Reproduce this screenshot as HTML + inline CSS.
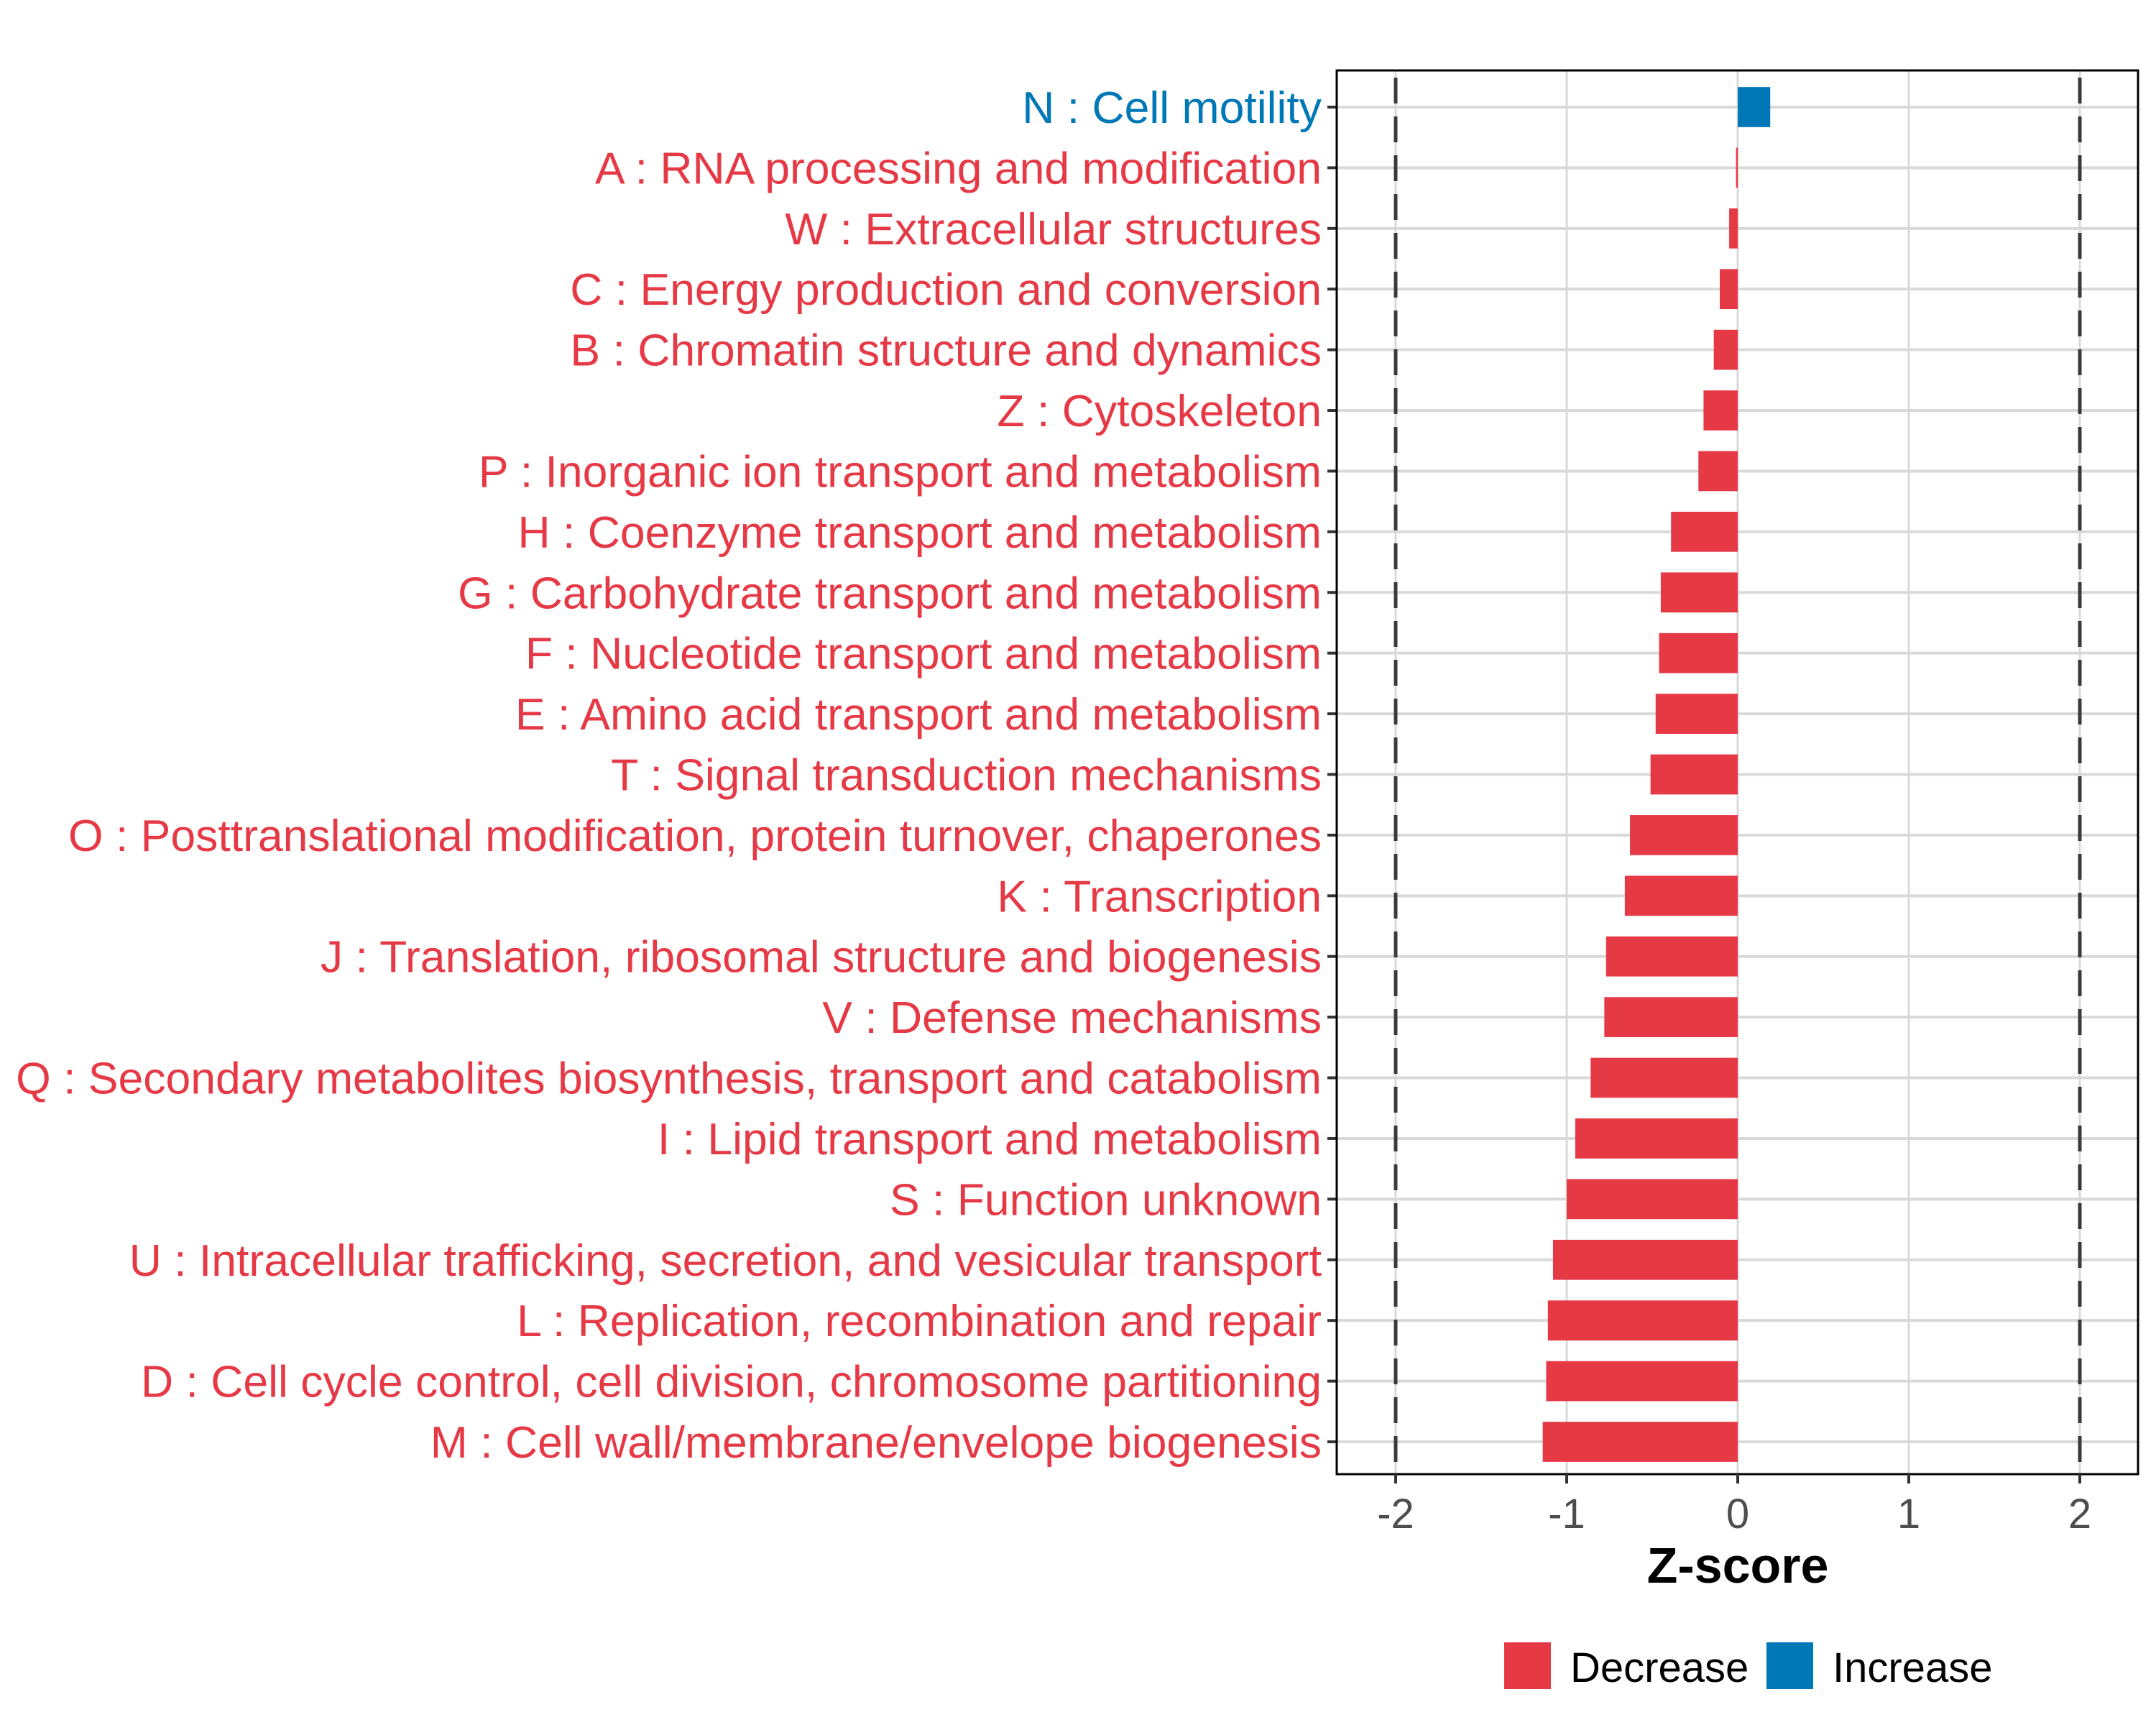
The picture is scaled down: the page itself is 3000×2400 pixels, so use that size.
<!DOCTYPE html>
<html><head><meta charset="utf-8"><style>
html,body{margin:0;padding:0;background:#fff;}
svg{display:block;font-family:"Liberation Sans",Arial,sans-serif;}
</style></head><body>
<svg id="chart" width="3000" height="2400" viewBox="0 0 3000 2400">
<rect x="0" y="0" width="3000" height="2400" fill="#fff"/>
<g id="grid"></g>
<g id="bars"></g>
<g id="labels"></g>
<g id="xaxis"></g>
<text x="2418" y="2202" text-anchor="middle" font-size="70" font-weight="bold" fill="#000">Z-score</text>
<g>
<rect x="2093" y="2285" width="65" height="65" fill="#e63946"/>
<text x="2185" y="2340" font-size="58" fill="#000">Decrease</text>
<rect x="2458" y="2285" width="65" height="65" fill="#0077b6"/>
<text x="2550" y="2340" font-size="58" fill="#000">Increase</text>
</g>
</svg>
<script>
const categories = ["N : Cell motility","A : RNA processing and modification","W : Extracellular structures","C : Energy production and conversion","B : Chromatin structure and dynamics","Z : Cytoskeleton","P : Inorganic ion transport and metabolism","H : Coenzyme transport and metabolism","G : Carbohydrate transport and metabolism","F : Nucleotide transport and metabolism","E : Amino acid transport and metabolism","T : Signal transduction mechanisms","O : Posttranslational modification, protein turnover, chaperones","K : Transcription","J : Translation, ribosomal structure and biogenesis","V : Defense mechanisms","Q : Secondary metabolites biosynthesis, transport and catabolism","I : Lipid transport and metabolism","S : Function unknown","U : Intracellular trafficking, secretion, and vesicular transport","L : Replication, recombination and repair","D : Cell cycle control, cell division, chromosome partitioning","M : Cell wall/membrane/envelope biogenesis"];
const zscores = [0.19,-0.01,-0.05,-0.105,-0.14,-0.2,-0.23,-0.39,-0.45,-0.46,-0.48,-0.51,-0.63,-0.66,-0.77,-0.78,-0.86,-0.95,-1.0,-1.08,-1.11,-1.12,-1.14];
const xTicks = [-2,-1,0,1,2];
const xTickLabels = ["-2","-1","0","1","2"];
const thresholds = [-2,2];

const NS="http://www.w3.org/2000/svg";
const P={l:1860,r:2975,t:98,b:2051};
const x0px=2418, unit=238;
const xs=v=>x0px+v*unit;
const y0=149, step=(2006-149)/(categories.length-1);
const ys=i=>y0+i*step;
function mk(tag,attrs,parent){const e=document.createElementNS(NS,tag);for(const k in attrs)e.setAttribute(k,attrs[k]);parent.appendChild(e);return e;}
const grid=document.getElementById('grid'),bars=document.getElementById('bars'),labels=document.getElementById('labels'),xaxis=document.getElementById('xaxis');
xTicks.forEach(t=>{const l=mk('line',{x1:xs(t),x2:xs(t),y1:P.t,y2:P.b,stroke:'#d9d9d9','stroke-width':3},grid);

});
categories.forEach((c,i)=>{const l=mk('line',{x1:P.l,x2:P.r,y1:ys(i),y2:ys(i),stroke:'#d9d9d9','stroke-width':4},grid);

});
thresholds.forEach(t=>{const l=mk('line',{x1:xs(t),x2:xs(t),y1:P.t+10,y2:P.b,stroke:'#3a3a3a','stroke-width':5,'stroke-dasharray':'36,18'},grid);

});
const bh=step*0.66;
zscores.forEach((v,i)=>{const col=v>=0?'#0077b6':'#e63946';
const r=mk('rect',{x:Math.min(xs(0),xs(v)),y:ys(i)-bh/2,width:Math.max(Math.abs(xs(v)-xs(0)),2),height:bh,fill:col},bars);


const t=mk('text',{x:1839,y:ys(i)+22,'text-anchor':'end','font-size':62.5,fill:col},labels);
t.textContent=categories[i];


const tk=mk('line',{x1:1847,x2:P.l,y1:ys(i),y2:ys(i),stroke:'#333','stroke-width':4},labels);

});
const bd=mk('rect',{x:P.l,y:P.t,width:P.r-P.l,height:P.b-P.t,fill:'none',stroke:'#000','stroke-width':3},xaxis);


xTicks.forEach((t,i)=>{const tk=mk('line',{x1:xs(t),x2:xs(t),y1:P.b,y2:P.b+13,stroke:'#333','stroke-width':4},xaxis);


const tx=mk('text',{x:xs(t),y:2126,'text-anchor':'middle','font-size':58,fill:'#4d4d4d'},xaxis);
tx.textContent=xTickLabels[i];

});
</script>
</body></html>
